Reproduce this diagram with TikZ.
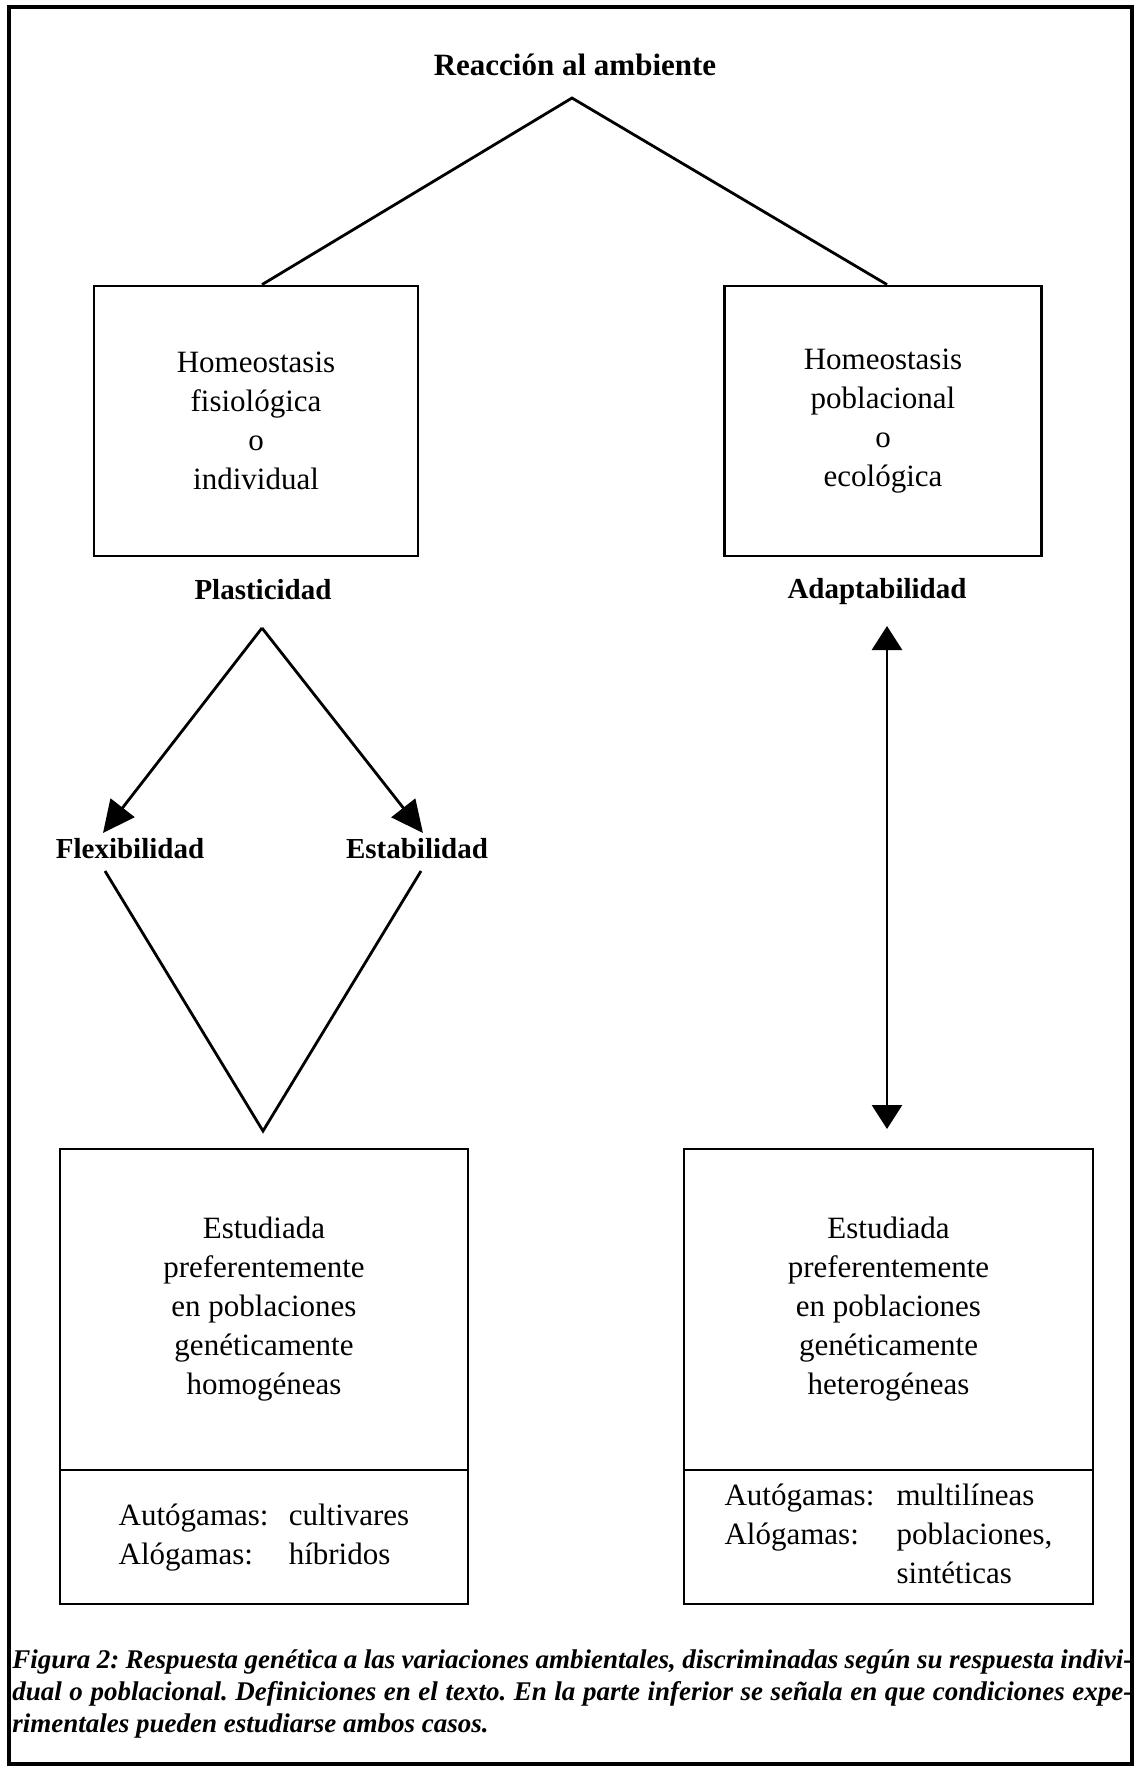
\documentclass[tikz,border=0pt]{standalone}
\usepackage{fontspec}
\setmainfont{Liberation Serif}
\usetikzlibrary{arrows.meta}

\begin{document}
\begin{tikzpicture}[x=0.5pt,y=-0.5pt]
\tikzstyle{every node}=[inner sep=0pt, font=\fontsize{15.5}{19.5}\selectfont]
\tikzstyle{caja}=[draw, line width=1.4pt, align=center]
\tikzstyle{rotulo}=[font=\fontsize{14.5}{17}\selectfont\bfseries]
\tikzstyle{linea}=[line width=1.4pt]
\tikzstyle{flecha}=[line width=1.4pt, -{Triangle[length=16pt,width=15pt]}]
\useasboundingbox (0,0) rectangle (1136,1768);
\draw[line width=2pt] (9,7) rectangle (1132,1764);
% parte superior
\draw (575,65) node (react) [font=\fontsize{15.5}{18}\selectfont\bfseries] {Reacción al ambiente};
\coordinate (apex) at (572,98);
\draw (256,421) node (hfis) [caja, minimum width=162pt, minimum height=135pt] {Homeostasis\\fisiológica\\o\\individual};
\draw (883,421) node (hpob) [caja, minimum width=158.5pt, minimum height=135pt] {Homeostasis\\poblacional\\o\\ecológica};
\draw[linea] ([xshift=3pt]hfis.north) -- (apex) -- ([xshift=2pt]hpob.north);
\draw (263,590) node (plas) [rotulo] {Plasticidad};
\draw (877,592) node (adap) [rotulo] {Adaptabilidad};
% plasticidad
\coordinate (pa) at (262,628);
\coordinate (pf) at (103,833);
\coordinate (pe) at (423,833);
\draw (130,849) node (flex) [rotulo] {Flexibilidad};
\draw (417,849) node (esta) [rotulo] {Estabilidad};
\draw[flecha] (pa) -- (pf);
\draw[flecha] (pa) -- (pe);
\coordinate (vf) at (105,871);
\coordinate (ve) at (421,871);
\coordinate (vb) at (263,1131);
\draw[linea] (vf) -- (vb) -- (ve);
% adaptabilidad
\coordinate (at) at (887,626);
\coordinate (ab) at (887,1129);
\draw[line width=1.4pt, {Triangle[length=12pt,width=15pt]}-{Triangle[length=12pt,width=15pt]}] (at) -- (ab);
% cajas inferiores
\draw (264,1309.5) node (estL) [caja, minimum width=204pt, minimum height=160.5pt] {Estudiada\\preferentemente\\en poblaciones\\genéticamente\\homogéneas};
\draw (264,1537) node (autL) [caja, minimum width=204pt, minimum height=67pt] {\begin{tabular}{@{}p{85pt}@{}l@{}}Autógamas: & cultivares\\Alógamas: & híbridos\end{tabular}};
\draw (888.5,1309.5) node (estR) [caja, minimum width=204.5pt, minimum height=160.5pt] {Estudiada\\preferentemente\\en poblaciones\\genéticamente\\heterogéneas};
\draw (888.5,1537) node (autR) [caja, minimum width=204.5pt, minimum height=67pt] {\begin{tabular}{@{}p{86pt}@{}l@{}}Autógamas: & multilíneas\\Alógamas: & poblaciones,\\ & sintéticas\end{tabular}};
% pie
\draw (12,1649) node (pie) [anchor=north west, text width=560pt, align=justify, font=\fontsize{13.5}{16}\selectfont\bfseries\itshape] {\frenchspacing\hyphenpenalty=10000 Figura 2: Respuesta genética a las variaciones ambientales, discriminadas según su respuesta indivi-\linebreak dual o poblacional. Definiciones en el texto. En la parte inferior se señala en que condiciones expe-\linebreak rimentales pueden estudiarse ambos casos.};
\end{tikzpicture}
\end{document}
